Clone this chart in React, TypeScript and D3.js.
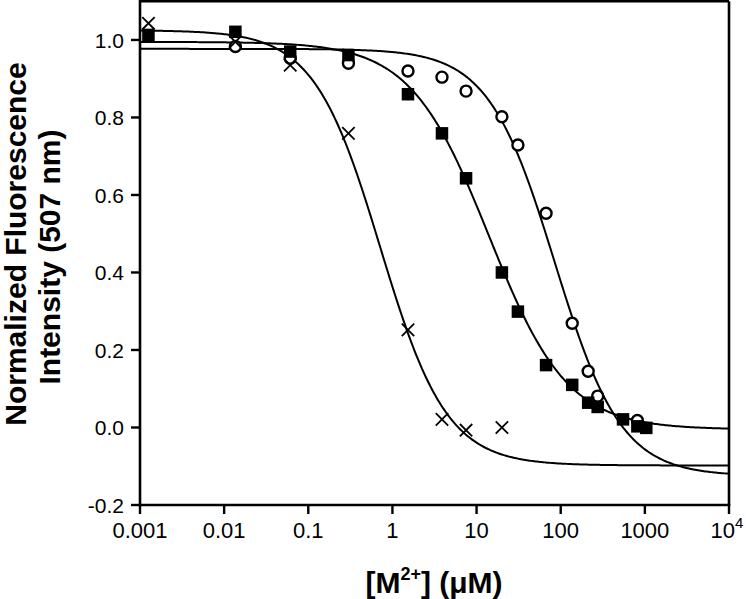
import React from "react";
import * as d3 from "d3";

// ---- data ----
const crossX = [0.00126, 0.0136, 0.061, 0.3, 1.53, 3.88, 7.5, 20];
const crossY = [1.043, 0.995, 0.935, 0.759, 0.252, 0.021, -0.007, 0.0];

const squareX = [0.00126, 0.0136, 0.061, 0.3, 1.53, 3.88, 7.5, 20, 31, 67, 137, 212, 275, 550, 815, 1040];
const squareY = [1.013, 1.021, 0.97, 0.961, 0.86, 0.759, 0.643, 0.4, 0.299, 0.161, 0.11, 0.064, 0.053, 0.021, 0.003, -0.001];

const circleX = [0.0136, 0.061, 0.3, 1.53, 3.88, 7.5, 20, 31, 67, 137, 212, 275, 815];
const circleY = [0.983, 0.953, 0.94, 0.92, 0.904, 0.868, 0.802, 0.729, 0.553, 0.269, 0.145, 0.081, 0.018];

// fitted dose-response curves: [top, bottom, EC50, Hill slope]
const crossFit = [1.025, -0.098, 0.72, 1.1];
const squareFit = [0.995, -0.005, 14, 0.93];
const circleFit = [0.977, -0.125, 85, 1.1];

const xTicks = [0.001, 0.01, 0.1, 1, 10, 100, 1000, 10000];
const xTickLabels = ["0.001", "0.01", "0.1", "1", "10", "100", "1000", "10^4"];
const yTicks = [-0.2, 0, 0.2, 0.4, 0.6, 0.8, 1.0];
const yTickLabels = ["-0.2", "0.0", "0.2", "0.4", "0.6", "0.8", "1.0"];

const W = 746;
const H = 599;
const left = 140;
const right = 729;
const top = 1.2;
const bottom = 505;

const font = "'Liberation Sans', Arial, Helvetica, sans-serif";

function hill(p: number[], x: number) {
  const [t, b, ec, n] = p;
  return b + (t - b) / (1 + Math.pow(x / ec, n));
}

export default function App() {
  const x = d3.scaleLog().domain([0.001, 10000]).range([left, right]);
  const y = d3.scaleLinear().domain([-0.2, 1.1]).range([bottom, top]);

  const grid = d3.range(0, 400).map((i) => Math.pow(10, -3 + (7 * i) / 399));
  const line = d3
    .line<number>()
    .x((d) => x(d))
    .curve(d3.curveLinear);

  const curvePath = (p: number[]) =>
    line.y((d) => y(hill(p, d)))(grid) || "";

  const sq = 12.5;
  const cr = 6.5;

  return (
    <svg
      width={W}
      height={H}
      style={{ position: "absolute", left: 0, top: 0, background: "#fff" }}
      fontFamily={font}
    >
      <rect x={0} y={0} width={W} height={H} fill="#fff" />
      <defs>
        <clipPath id="plotclip">
          <rect x={left} y={top} width={right - left} height={bottom - top} />
        </clipPath>
      </defs>

      {/* curves */}
      <g clipPath="url(#plotclip)" fill="none" stroke="#000" strokeWidth={2}>
        <path d={curvePath(crossFit)} />
        <path d={curvePath(squareFit)} />
        <path d={curvePath(circleFit)} />
      </g>

      {/* open circles */}
      <g fill="#fff" stroke="#000" strokeWidth={2.4}>
        {circleX.map((cx, i) => (
          <circle key={"c" + i} cx={x(cx)} cy={y(circleY[i])} r={cr - 1} />
        ))}
      </g>
      {/* filled squares */}
      <g fill="#000">
        {squareX.map((sx, i) => (
          <rect
            key={"s" + i}
            x={x(sx) - sq / 2}
            y={y(squareY[i]) - sq / 2}
            width={sq}
            height={sq}
          />
        ))}
      </g>
      {/* crosses */}
      <g stroke="#000" strokeWidth={1.8}>
        {crossX.map((cx, i) => {
          const px = x(cx);
          const py = y(crossY[i]);
          const h = 6.2;
          return (
            <g key={"x" + i}>
              <line x1={px - h} y1={py - h} x2={px + h} y2={py + h} />
              <line x1={px - h} y1={py + h} x2={px + h} y2={py - h} />
            </g>
          );
        })}
      </g>

      {/* frame */}
      <g stroke="#000" strokeWidth={2.6} fill="none">
        <line x1={left} y1={top} x2={right} y2={top} />
        <line x1={right} y1={top} x2={right} y2={bottom} />
        <line x1={left} y1={top - 1.3} x2={left} y2={bottom + 1.3} />
        <line x1={left - 1.3} y1={bottom} x2={right + 1.3} y2={bottom} />
      </g>

      {/* x ticks */}
      <g stroke="#000" strokeWidth={2.4}>
        {xTicks.map((t) => (
          <line key={"xt" + t} x1={x(t)} x2={x(t)} y1={bottom} y2={bottom + 9} />
        ))}
      </g>
      <g fontSize={22} textAnchor="middle" fill="#000">
        {xTicks.map((t, i) => {
          const lab = xTickLabels[i];
          if (lab.includes("^")) {
            const [b, e] = lab.split("^");
            return (
              <text key={"xl" + t} x={x(t) - 2} y={538}>
                {b}
                <tspan fontSize={15} dy={-10}>
                  {e}
                </tspan>
              </text>
            );
          }
          return (
            <text key={"xl" + t} x={x(t)} y={538}>
              {lab}
            </text>
          );
        })}
      </g>

      {/* y ticks */}
      <g stroke="#000" strokeWidth={2.4}>
        {yTicks.map((t) => (
          <line key={"yt" + t} x1={left - 9} x2={left} y1={y(t)} y2={y(t)} />
        ))}
      </g>
      <g fontSize={21} textAnchor="end" fill="#000">
        {yTicks.map((t, i) => (
          <text key={"yl" + t} x={124} y={y(t)} dy="0.36em">
            {yTickLabels[i]}
          </text>
        ))}
      </g>

      {/* axis titles */}
      <text
        x={434}
        y={593}
        textAnchor="middle"
        fontSize={30}
        fontWeight="bold"
        fill="#000"
      >
        [M
        <tspan fontSize={18} dy={-13}>
          2+
        </tspan>
        <tspan dy={13}>] (μM)</tspan>
      </text>

      <text
        transform={`translate(26,244) rotate(-90)`}
        textAnchor="middle"
        fontSize={30}
        fontWeight="bold"
        fill="#000"
      >
        Normalized Fluorescence
      </text>
      <text
        transform={`translate(60,257) rotate(-90)`}
        textAnchor="middle"
        fontSize={30}
        fontWeight="bold"
        fill="#000"
      >
        Intensity (507 nm)
      </text>
    </svg>
  );
}
